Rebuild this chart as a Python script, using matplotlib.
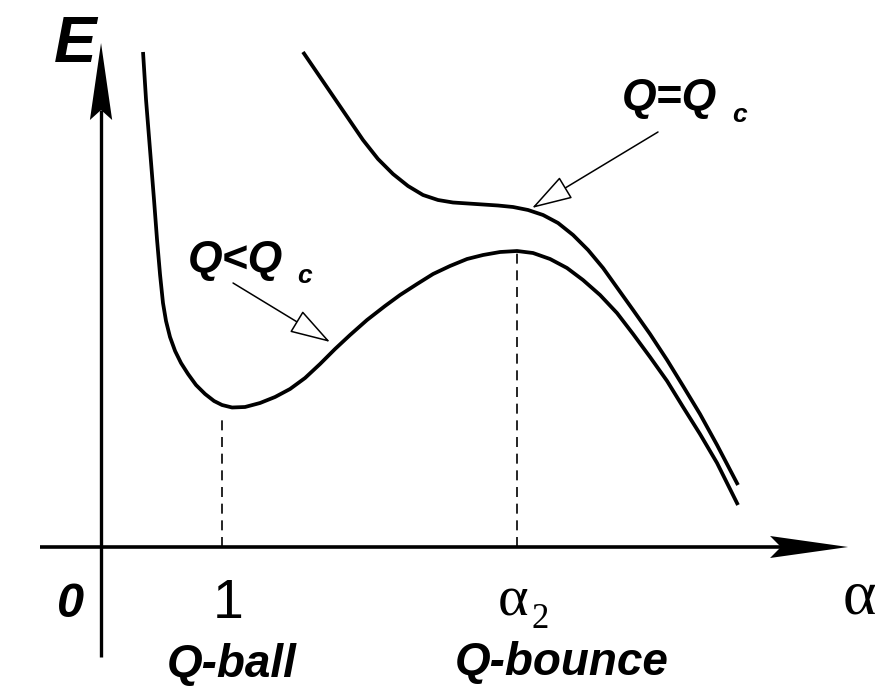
import numpy as np
import matplotlib.pyplot as plt

# energy curves, in (alpha, E) units
# Q < Qc : minimum at alpha = 1 (Q-ball), maximum at alpha_2 (Q-bounce)
alpha_low = [0.347, 0.372, 0.405, 0.438, 0.463, 0.488, 0.512, 0.537, 0.570, 0.612,
             0.661, 0.719, 0.785, 0.860, 0.934, 1.000, 1.083, 1.190, 1.314, 1.438,
             1.562, 1.686, 1.810, 1.934, 2.058, 2.198, 2.347, 2.471, 2.612, 2.744,
             2.884, 3.025, 3.157, 3.298, 3.438, 3.570, 3.711, 3.851, 3.983, 4.124,
             4.264, 4.397, 4.537, 4.678, 4.810, 4.950, 5.091, 5.264]
E_low = [4.95, 4.47, 3.97, 3.47, 3.07, 2.72, 2.44, 2.26, 2.10, 1.96,
         1.84, 1.73, 1.62, 1.53, 1.46, 1.42, 1.395, 1.40, 1.44, 1.50,
         1.58, 1.69, 1.83, 1.98, 2.12, 2.27, 2.41, 2.52, 2.63, 2.73,
         2.81, 2.88, 2.92, 2.95, 2.96, 2.94, 2.88, 2.79, 2.67, 2.52,
         2.34, 2.13, 1.90, 1.66, 1.40, 1.13, 0.84, 0.42]

# Q = Qc : inflection plateau
alpha_crit = [1.669, 1.793, 1.917, 2.041, 2.165, 2.289, 2.413, 2.537, 2.661, 2.785,
              2.909, 3.033, 3.157, 3.281, 3.405, 3.529, 3.653, 3.777, 3.901, 4.025,
              4.149, 4.273, 4.397, 4.537, 4.678, 4.810, 4.950, 5.091, 5.264]
E_crit = [4.95, 4.73, 4.51, 4.29, 4.07, 3.88, 3.73, 3.61, 3.52, 3.47,
          3.445, 3.435, 3.425, 3.415, 3.40, 3.37, 3.32, 3.24, 3.12, 2.97,
          2.79, 2.58, 2.37, 2.13, 1.87, 1.61, 1.33, 1.02, 0.62]

alpha_ball = 1.0
alpha_bounce = 3.438
E_ball_top = 1.31
E_bounce_top = 2.94

bold = dict(family='Liberation Sans', weight='bold', style='italic', color='black')

fig = plt.figure(figsize=(8.81, 6.87), dpi=100)
ax = fig.add_axes([0, 0, 1, 1])
ax.set_xlim(-0.835, 6.446)
ax.set_ylim(-1.40, 5.47)
ax.axis('off')

# axes with notched arrow heads
x0, x1 = -0.504, 6.174
y0, y1 = -1.10, 5.04
hl_x, hw_x, nt_x = 0.645, 0.11, 0.09
ax.plot([x0, x1 - hl_x + nt_x], [0, 0], color='black', lw=2.6, solid_capstyle='butt')
ax.fill([x1, x1 - hl_x, x1 - hl_x + nt_x, x1 - hl_x], [0, hw_x, 0, -hw_x],
        color='black', lw=0)
hl_y, hw_y, nt_y = 0.77, 0.092, 0.10
ax.plot([0, 0], [y0, y1 - hl_y + nt_y], color='black', lw=2.4, solid_capstyle='butt')
ax.fill([0, hw_y, 0, -hw_y], [y1, y1 - hl_y, y1 - hl_y + nt_y, y1 - hl_y],
        color='black', lw=0)

# curves
ax.plot(alpha_low, E_low, color='black', lw=2.7, solid_joinstyle='round',
        solid_capstyle='butt')
ax.plot(alpha_crit, E_crit, color='black', lw=2.7, solid_joinstyle='round',
        solid_capstyle='butt')

# dashed markers
ax.plot([alpha_ball, alpha_ball], [0, E_ball_top], color='black', lw=1.2,
        dashes=(6, 4))
ax.plot([alpha_bounce, alpha_bounce], [0, E_bounce_top], color='black', lw=1.2,
        dashes=(6, 4))

# hollow pointer arrows
arr = dict(arrowstyle='-|>,head_length=1.3,head_width=0.4', mutation_scale=20,
           fc='white', ec='black', lw=1.1, shrinkA=0, shrinkB=0)
ax.annotate('', xy=(1.893, 2.05), xytext=(1.091, 2.64), arrowprops=arr)
ax.annotate('', xy=(3.562, 3.39), xytext=(4.603, 4.15), arrowprops=arr)

# labels
ax.text(-0.388, 4.85, 'E', fontsize=46, **bold)
ax.text(0.719, 2.75, 'Q<Q', fontsize=32, **bold)
ax.text(1.62, 2.64, 'c', fontsize=19, **bold)
ax.text(4.306, 4.37, 'Q=Q', fontsize=32, **bold)
ax.text(5.215, 4.25, 'c', fontsize=19, **bold)

ax.text(-0.256, -0.70, '0', fontsize=35, ha='center', **bold)
ax.text(1.05, -0.71, '1', fontsize=40, ha='center', family='Liberation Sans')
ax.text(3.281, -0.68, 'α', fontsize=42, family='Liberation Serif')
ax.text(3.56, -0.81, '2', fontsize=25, family='Liberation Serif')
ax.text(6.132, -0.66, 'α', fontsize=46, family='Liberation Serif')

ax.text(0.545, -1.30, 'Q-ball', fontsize=33, **bold)
ax.text(2.926, -1.28, 'Q-bounce', fontsize=33, **bold)

fig.savefig('out.png', dpi=100, facecolor='white')
